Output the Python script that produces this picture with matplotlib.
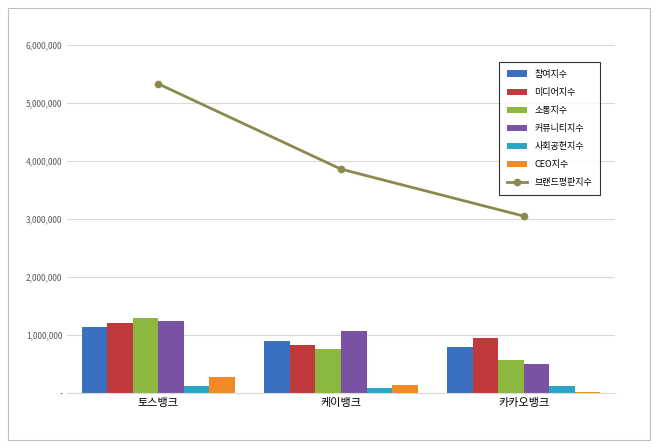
import matplotlib.pyplot as plt
import numpy as np
from matplotlib.patches import Rectangle

plt.rcParams["font.family"] = ["Noto Sans CJK KR", "DejaVu Sans"]

categories = ["토스뱅크", "케이뱅크", "카카오뱅크"]
series_names = ["참여지수", "미디어지수", "소통지수", "커뮤니티지수", "사회공헌지수", "CEO지수"]
series_values = [
    [1130000, 900000, 790000],
    [1210000, 830000, 950000],
    [1290000, 760000, 570000],
    [1240000, 1070000, 500000],
    [120000, 90000, 120000],
    [280000, 140000, 20000],
]
brand_index = [5330000, 3860000, 3050000]
colors = ["#3b6fc0", "#c0393b", "#8db83f", "#7a52a3", "#2aa6c4", "#f08a24"]
line_color = "#8a8a50"

fig = plt.figure(figsize=(6.6, 4.48), dpi=100)
fig.patches.append(Rectangle((8/660, 8/448), 642/660, 432/448, transform=fig.transFigure,
                             fill=False, edgecolor="#bfbfbf", linewidth=0.8))
ax = fig.add_axes([67/660, 55/448, 548/660, 348/448])

x = np.arange(len(categories))
width = 0.14
for i, (name, vals) in enumerate(zip(series_names, series_values)):
    ax.bar(x + (i - 2.5) * width, vals, width, color=colors[i], label=name, zorder=2)
ax.plot(x, brand_index, color=line_color, linewidth=2, marker="o", markersize=4.5,
        label="브랜드평판지수", zorder=3)

ax.set_xlim(-0.5, 2.5)
ax.set_ylim(0, 6000000)
ax.set_yticks(np.arange(0, 6000001, 1000000))
ax.set_yticklabels(["-"] + [f"{v:,}" for v in range(1000000, 6000001, 1000000)], fontsize=6, color="#595959")
ax.set_xticks(x)
ax.set_xticklabels(categories, fontsize=8)
ax.tick_params(length=0)
ax.grid(axis="y", color="#d9d9d9", linewidth=0.8, zorder=0)
for s in ["top", "right", "left"]:
    ax.spines[s].set_visible(False)
ax.spines["bottom"].set_color("#d9d9d9")

handles, labels = ax.get_legend_handles_labels()
handles = handles[1:] + handles[:1]
labels = labels[1:] + labels[:1]
leg = ax.legend(handles, labels, loc="upper left", bbox_to_anchor=(0.78, 0.965), fontsize=6.5,
                frameon=True, fancybox=False, edgecolor="black", handlelength=2.2,
                labelspacing=1.0, borderpad=0.9)
leg.get_frame().set_linewidth(0.8)

fig.savefig("out.png", dpi=100)
